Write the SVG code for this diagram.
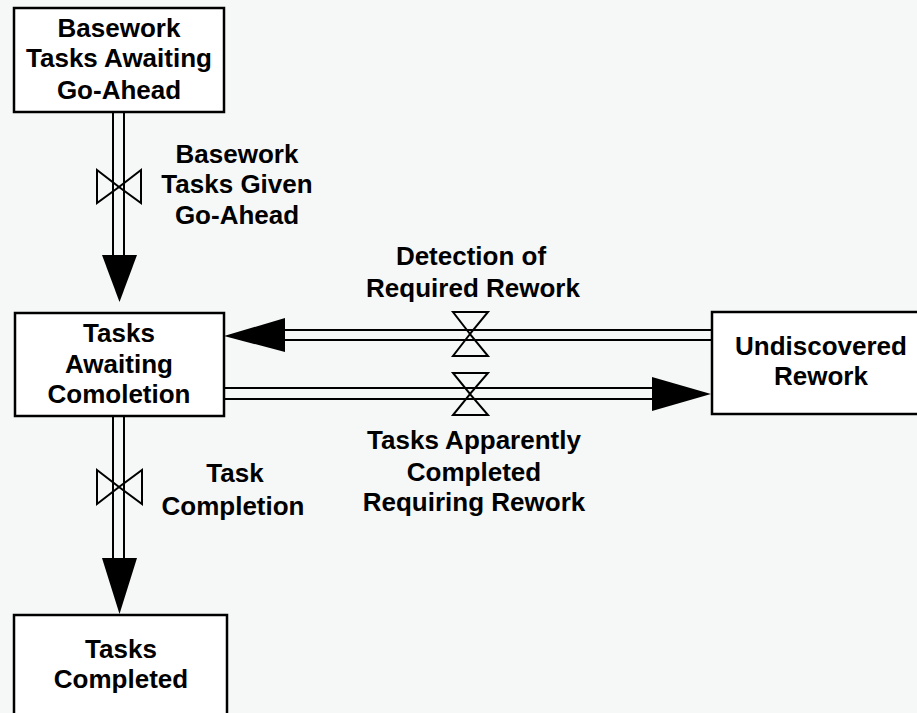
<svg xmlns="http://www.w3.org/2000/svg" width="917" height="713" viewBox="0 0 917 713">
  <style>
    .box { fill: #ffffff; stroke: #000000; stroke-width: 2.5; }
    .pipe { stroke: #000000; stroke-width: 2; fill: none; }
    .valve { fill: none; stroke: #000000; stroke-width: 2; stroke-linejoin: miter; }
    .head { fill: #000000; stroke: none; }
    text { font-family: "Liberation Sans", Arial, sans-serif; font-weight: bold; font-size: 26px; fill: #000000; text-anchor: middle; }
  </style>
  <rect x="0" y="0" width="917" height="713" fill="#f6f8f8"/>

  <g id="connectors">
    <!-- Basework given go-ahead: vertical flow pipe -->
    <g id="flow-go-ahead">
      <line class="pipe" x1="113" y1="112" x2="113" y2="256"/>
      <line class="pipe" x1="124" y1="112" x2="124" y2="256"/>
      <polygon class="valve" points="97,170 97,203 119,187"/>
      <polygon class="valve" points="141,170 141,203 119,187"/>
      <polygon class="head" points="102,255 137,255 119.5,302"/>
    </g>
    <!-- Detection of required rework: right to left -->
    <g id="flow-detection">
      <line class="pipe" x1="284" y1="330" x2="712" y2="330"/>
      <line class="pipe" x1="284" y1="340" x2="712" y2="340"/>
      <polygon class="valve" points="453,312 488,312 470,334"/>
      <polygon class="valve" points="453,356 488,356 470,334"/>
      <polygon class="head" points="224,336 285,318 285,352"/>
    </g>
    <!-- Tasks apparently completed requiring rework: left to right -->
    <g id="flow-apparent">
      <line class="pipe" x1="224" y1="388" x2="653" y2="388"/>
      <line class="pipe" x1="224" y1="399" x2="653" y2="399"/>
      <polygon class="valve" points="453,373 488,373 470,394"/>
      <polygon class="valve" points="453,415 488,415 470,394"/>
      <polygon class="head" points="652,377 652,411 711,394"/>
    </g>
    <!-- Task completion: vertical flow pipe -->
    <g id="flow-completion">
      <line class="pipe" x1="113" y1="416" x2="113" y2="559"/>
      <line class="pipe" x1="124" y1="416" x2="124" y2="559"/>
      <polygon class="valve" points="97,470 97,504 119,487"/>
      <polygon class="valve" points="142,470 142,504 119,487"/>
      <polygon class="head" points="102,558 137,558 119.5,614"/>
    </g>
  </g>

  <g id="basework-awaiting">
    <rect class="box" x="14" y="8" width="210" height="104"/>
    <text x="119" y="37">Basework</text>
    <text x="119" y="67">Tasks Awaiting</text>
    <text x="119" y="99">Go-Ahead</text>
  </g>

  <g id="tasks-awaiting-completion">
    <rect class="box" x="15" y="313" width="209" height="103"/>
    <text x="119" y="342">Tasks</text>
    <text x="119" y="373">Awaiting</text>
    <text x="119" y="403">Comoletion</text>
  </g>

  <g id="undiscovered-rework">
    <rect class="box" x="712" y="312" width="210" height="102"/>
    <text x="821" y="355">Undiscovered</text>
    <text x="821" y="385">Rework</text>
  </g>

  <g id="tasks-completed">
    <rect class="box" x="14" y="615" width="213" height="110"/>
    <text x="121" y="658">Tasks</text>
    <text x="121" y="688">Completed</text>
  </g>

  <g id="labels">
    <text x="237" y="163">Basework</text>
    <text x="237" y="193">Tasks Given</text>
    <text x="237" y="224">Go-Ahead</text>

    <text x="471" y="265">Detection of</text>
    <text x="473" y="297">Required Rework</text>

    <text x="474" y="449">Tasks Apparently</text>
    <text x="474" y="481">Completed</text>
    <text x="474" y="511">Requiring Rework</text>

    <text x="235" y="482">Task</text>
    <text x="233" y="515">Completion</text>
  </g>
</svg>
